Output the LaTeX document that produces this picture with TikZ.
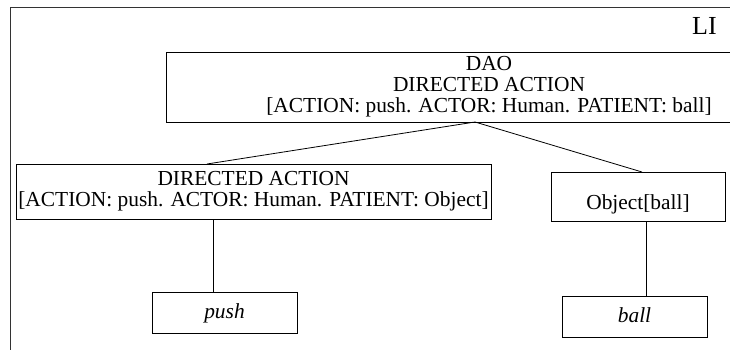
\documentclass[tikz,border=0pt]{standalone}
\usepackage{fontspec}
\setmainfont{Liberation Serif}
\begin{document}
\begin{tikzpicture}[x=1pt,y=-1pt,
  box/.style={draw, line width=0.8pt, inner sep=0pt, outer sep=0pt, rectangle},
  txt/.style={anchor=base, inner sep=0pt, outer sep=0pt, font=\fontsize{21.4}{21}\selectfont},
  link/.style={line width=0.8pt},
  frameline/.style={line width=0.9pt, black!80}]
\useasboundingbox (0,0) rectangle (730,350);
% outer frame
\draw[frameline] (730,7) -- (10,7) -- (10,350);
% boxes
\node[box, minimum width=618pt, minimum height=70pt] (dao) at (475,87) {};
\node[box, minimum width=475pt, minimum height=55pt] (ldir) at (253.5,191.5) {};
\node[box, minimum width=174pt, minimum height=49pt] (obj) at (638,196.5) {};
\node[box, minimum width=145pt, minimum height=41pt] (push) at (224.5,312.5) {};
\node[box, minimum width=145pt, minimum height=41pt] (ball) at (634.5,316.5) {};
% texts
\node[txt, font=\fontsize{26}{30}\selectfont] (li) at (704.5,35) {LI};
\node[txt] (t1) at (489,71) {DAO};
\node[txt] (t2) at (489,92) {DIRECTED ACTION};
\node[txt] (t3) at (489,113) {[ACTION: push. ACTOR: Human. PATIENT: ball]};
\node[txt] (t4) at (253.5,185) {DIRECTED ACTION};
\node[txt] (t5) at (253.5,206) {[ACTION: push. ACTOR: Human. PATIENT: Object]};
\node[txt] (t6) at (638,209) {Object[ball]};
\node[txt] (t7) at (224.5,318) {\itshape push};
\node[txt] (t8) at (634.5,322) {\itshape ball};
% contact coordinates
\coordinate (cl) at (207,0);
\coordinate (cr) at (642,0);
\coordinate (vl) at (213,0);
\coordinate (vr) at (646,0);
% connectors
\draw[link] (dao.south) -- (ldir.north -| cl);
\draw[link] (dao.south) -- (obj.north -| cr);
\draw[link] (ldir.south -| vl) -- (push.north -| vl);
\draw[link] (obj.south -| vr) -- (ball.north -| vr);
\end{tikzpicture}
\end{document}
